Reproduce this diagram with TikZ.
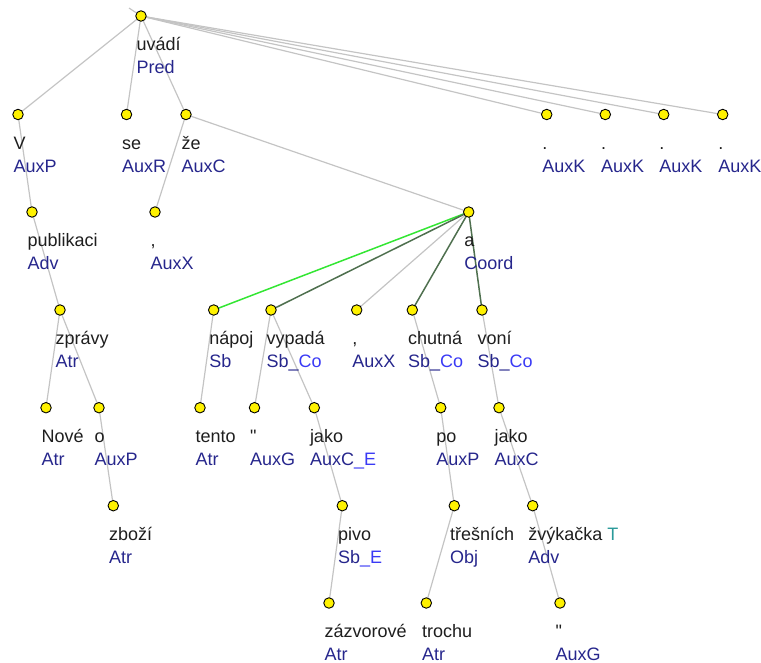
\documentclass[tikz,border=0pt]{standalone}
\usepackage{fontspec}
\setmainfont{Liberation Sans}
\newfontfamily\qfont{Liberation Sans}[Ligatures=TeXOff]
\definecolor{wordc}{HTML}{1E1E1E}
\definecolor{tagc}{HTML}{26268C}
\definecolor{tagl}{HTML}{3A3AF5}
\definecolor{teal}{HTML}{2A9A9A}
\definecolor{edgec}{HTML}{C4C4C4}
\definecolor{grn}{HTML}{33E633}
\definecolor{dgrn}{HTML}{4F704F}
\tikzset{
  dot/.style={circle,draw=black,line width=0.9pt,fill=yellow,minimum size=10.5pt,inner sep=0pt},
  wlbl/.style={anchor=base west,inner sep=0pt,text=wordc,font=\fontsize{18}{22}\selectfont},
  tlbl/.style={anchor=base west,inner sep=0pt,text=tagc,font=\fontsize{18}{22}\selectfont},
  edge/.style={draw=edgec,line width=1.2pt},
  gedge/.style={draw=grn,line width=1.5pt},
  dedge/.style={draw=dgrn,line width=1.5pt},
}
\newcommand{\tnode}[5]{%
  \node[dot] (#1) at (#2,#3) {};
  \node[wlbl] (#1w) at (#2-4.5,#3+34.7) {#4};
  \node[tlbl] (#1t) at (#2-4.5,#3+57.5) {#5};
}
\newcommand{\sq}{{\qfont"}}
\begin{document}
\begin{tikzpicture}[x=1pt,y=-1pt]
\useasboundingbox (0,0) rectangle (761,662);
% positions
\coordinate (r) at (141,16);
\coordinate (top) at (129,8);
\coordinate (V) at (18,114.5);
\coordinate (se) at (126.5,114.5);
\coordinate (ze) at (186,114.5);
\coordinate (k1) at (546.7,114.5);
\coordinate (k2) at (605.3,114.5);
\coordinate (k3) at (663.7,114.5);
\coordinate (k4) at (722.7,114.5);
\coordinate (pub) at (32,212);
\coordinate (cx) at (155,212);
\coordinate (a) at (468.7,212);
\coordinate (zpr) at (60,310);
\coordinate (nap) at (213.7,310);
\coordinate (vyp) at (271,310);
\coordinate (cm) at (356.7,310);
\coordinate (chu) at (412.3,310);
\coordinate (von) at (482,310);
\coordinate (nov) at (46,407.7);
\coordinate (o) at (99,407.7);
\coordinate (ten) at (200,407.7);
\coordinate (q1) at (254.5,407.7);
\coordinate (jak) at (314.3,407.7);
\coordinate (po) at (440.7,407.7);
\coordinate (jak2) at (499,407.7);
\coordinate (zbo) at (113.3,505.7);
\coordinate (piv) at (342.3,505.7);
\coordinate (tre) at (454.3,505.7);
\coordinate (zvy) at (532.7,505.7);
\coordinate (zaz) at (329,603);
\coordinate (tro) at (426.3,603);
\coordinate (q2) at (560,603);
% edges
\draw[edge] (top) -- (r);
\foreach \c in {V,se,ze,k1,k2,k3,k4} \draw[edge] (r) -- (\c);
\draw[edge] (V) -- (pub);
\draw[edge] (pub) -- (zpr);
\draw[edge] (zpr) -- (nov);
\draw[edge] (zpr) -- (o);
\draw[edge] (o) -- (zbo);
\draw[edge] (ze) -- (cx);
\draw[edge] (ze) -- (a);
\draw[gedge] (a) -- (nap);
\draw[dedge] (a) -- (vyp);
\draw[edge] (a) -- (cm);
\draw[dedge] (a) -- (chu);
\draw[dedge] (a) -- (von);
\draw[edge] (nap) -- (ten);
\draw[edge] (vyp) -- (q1);
\draw[edge] (vyp) -- (jak);
\draw[edge] (jak) -- (piv);
\draw[edge] (piv) -- (zaz);
\draw[edge] (chu) -- (po);
\draw[edge] (po) -- (tre);
\draw[edge] (tre) -- (tro);
\draw[edge] (von) -- (jak2);
\draw[edge] (jak2) -- (zvy);
\draw[edge] (zvy) -- (q2);
% nodes
\tnode{n0}{141}{16}{uvádí}{Pred}
\tnode{n1}{18}{114.5}{V}{AuxP}
\tnode{n2}{126.5}{114.5}{se}{AuxR}
\tnode{n3}{186}{114.5}{že}{AuxC}
\tnode{n4}{546.7}{114.5}{.}{AuxK}
\tnode{n5}{605.3}{114.5}{.}{AuxK}
\tnode{n6}{663.7}{114.5}{.}{AuxK}
\tnode{n7}{722.7}{114.5}{.}{AuxK}
\tnode{n8}{32}{212}{publikaci}{Adv}
\tnode{n9}{155}{212}{,}{AuxX}
\tnode{n10}{468.7}{212}{a}{Coord}
\tnode{n11}{60}{310}{zprávy}{Atr}
\tnode{n12}{213.7}{310}{nápoj}{Sb}
\tnode{n13}{271}{310}{vypadá}{Sb\_\textcolor{tagl}{Co}}
\tnode{n14}{356.7}{310}{,}{AuxX}
\tnode{n15}{412.3}{310}{chutná}{Sb\_\textcolor{tagl}{Co}}
\tnode{n16}{482}{310}{voní}{Sb\_\textcolor{tagl}{Co}}
\tnode{n17}{46}{407.7}{Nové}{Atr}
\tnode{n18}{99}{407.7}{o}{AuxP}
\tnode{n19}{200}{407.7}{tento}{Atr}
\tnode{n20}{254.5}{407.7}{\sq}{AuxG}
\tnode{n21}{314.3}{407.7}{jako}{AuxC\textcolor{tagl}{\_E}}
\tnode{n22}{440.7}{407.7}{po}{AuxP}
\tnode{n23}{499}{407.7}{jako}{AuxC}
\tnode{n24}{113.3}{505.7}{zboží}{Atr}
\tnode{n25}{342.3}{505.7}{pivo}{Sb\textcolor{tagl}{\_E}}
\tnode{n26}{454.3}{505.7}{třešních}{Obj}
\tnode{n27}{532.7}{505.7}{žvýkačka \textcolor{teal}{T}}{Adv}
\tnode{n28}{329}{603}{zázvorové}{Atr}
\tnode{n29}{426.3}{603}{trochu}{Atr}
\tnode{n30}{560}{603}{\sq}{AuxG}
\end{tikzpicture}
\end{document}
